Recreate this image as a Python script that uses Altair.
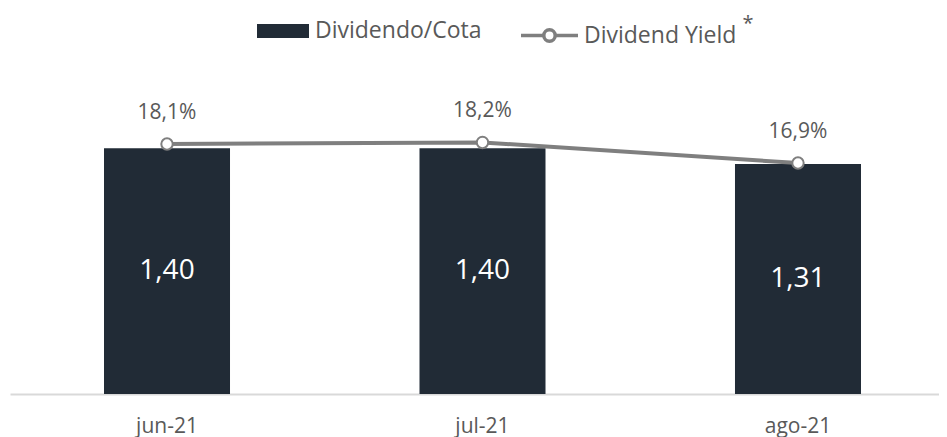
import altair as alt
import pandas as pd

meses = ["jun-21", "jul-21", "ago-21"]
dividendo = [1.40, 1.40, 1.31]
dividend_yield = [18.1, 18.2, 16.9]
serie_bar = "Dividendo/Cota"
serie_line = "Dividend Yield"
nota = ["*"]

NAVY = "#212B36"
GRAY = "#7F7F7F"
TXT = "#595959"
FONT = "Open Sans"

df = pd.DataFrame({
    "mes": meses,
    "div": dividendo,
    "dy": dividend_yield,
    "sb": serie_bar,
    "sl": serie_line,
})

RECT_PATH = "M-1,-0.27H1V0.27H-1Z"
LINE_PATH = ("M-1,0H-0.2M0.2,0H1M0.2,0A0.2,0.2 0 1 1 -0.2,0"
             "A0.2,0.2 0 1 1 0.2,0")

x = alt.X("mes:N", sort=meses, title=None,
          scale=alt.Scale(paddingInner=0.6006, paddingOuter=0.2726, align=0.5465),
          axis=alt.Axis(labelAngle=0, labelFontSize=21, labelColor=TXT, labelFont=FONT,
                        labelPadding=21, ticks=False, domainColor="#D9D9D9",
                        domainWidth=2, grid=False))

ybar = alt.Y("div:Q", scale=alt.Scale(domain=[0, 1.6]), axis=None)
yline = alt.Y("dy:Q", scale=alt.Scale(domain=[2.31, 20.06], zero=False), axis=None)

base = alt.Chart(df)

bars = base.mark_bar().encode(
    x=x, y=ybar,
    color=alt.Color("sb:N",
                    scale=alt.Scale(domain=[serie_bar], range=[NAVY]),
                    legend=alt.Legend(
                        orient="none", legendX=247, legendY=-108,
                        direction="horizontal", title=None,
                        labelFontSize=23, labelColor=TXT, labelFont=FONT,
                        labelLimit=400,
                        symbolSize=2704, symbolType=RECT_PATH,
                        symbolStrokeWidth=0, symbolOpacity=1,
                        labelOffset=6, padding=0,
                    )),
)

bar_text = base.transform_calculate(
    half="datum.div / 2",
    lbl="replace(format(datum.div, '.2f'), '.', ',')",
).mark_text(color="white", fontSize=28, font=FONT, baseline="middle").encode(
    x=x, y=alt.Y("half:Q", scale=alt.Scale(domain=[0, 1.6]), axis=None), text="lbl:N",
)

line = base.mark_line(color=GRAY, strokeWidth=4).encode(x=x, y=yline)
pts = base.mark_point(filled=True, fill="white", strokeWidth=2,
                      size=130, opacity=1).encode(
    x=x, y=yline,
    stroke=alt.Stroke("sl:N",
                      scale=alt.Scale(domain=[serie_line], range=[GRAY]),
                      legend=alt.Legend(
                          orient="none", legendX=509, legendY=-108,
                          direction="horizontal", title=None,
                          labelFontSize=23, labelColor=TXT, labelFont=FONT,
                          labelLimit=400,
                          symbolSize=3249, symbolType=LINE_PATH,
                          symbolFillColor="white", symbolStrokeColor=GRAY,
                          symbolStrokeWidth=3.5, symbolOpacity=1,
                          labelOffset=4, padding=0,
                      )),
)
pct_text = base.transform_calculate(
    lbl="replace(format(datum.dy, '.1f'), '.', ',') + '%'",
).mark_text(color=TXT, fontSize=21, font=FONT, baseline="bottom", dy=-21).encode(
    x=x, y=yline, text="lbl:N",
)

asterisco = alt.Chart(pd.DataFrame({"t": nota})).mark_text(
    color=TXT, fontSize=20, font=FONT, baseline="alphabetic", align="center"
).encode(x=alt.value(738), y=alt.value(-83), text="t:N")

chart = alt.layer(bars, bar_text, line, pts, pct_text, asterisco).resolve_scale(
    y="independent"
).properties(
    width=929, height=281,
    autosize=alt.AutoSizeParams(type="none"),
    padding={"left": 2, "top": 105, "right": 0, "bottom": 44},
).configure_view(stroke=None)

chart.save("out.html", embed_options={"renderer": "svg", "actions": False})
